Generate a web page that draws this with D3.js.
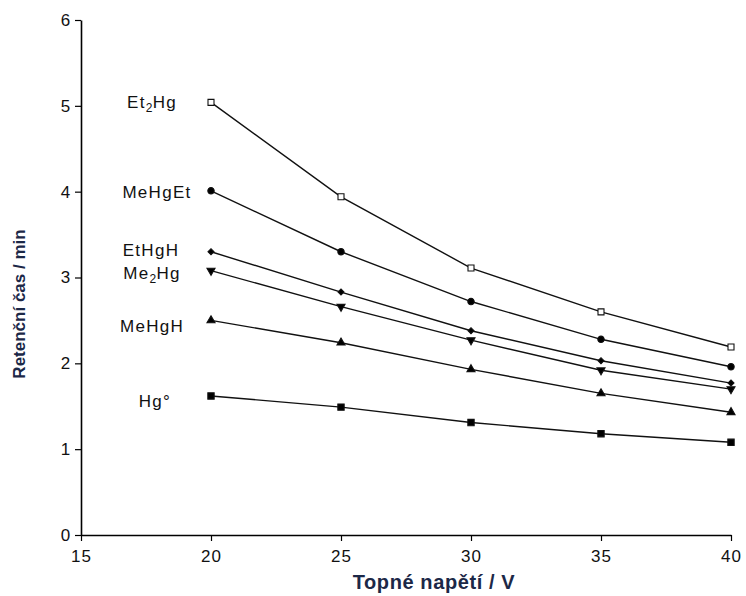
<!DOCTYPE html>
<html>
<head>
<meta charset="utf-8">
<script src="https://cdn.jsdelivr.net/npm/d3@7"></script>
<style>
  body { margin: 0; background: #fff; }
  text { font-family: "Liberation Sans", Arial, sans-serif; }
</style>
</head>
<body>
<div id="chart"></div>
<script>
// heating voltage (V)
var voltages = [20, 25, 30, 35, 40];

// retention times (min) per species
var et2hg  = [5.04, 3.94, 3.11, 2.60, 2.19];
var mehget = [4.01, 3.30, 2.72, 2.28, 1.96];
var ethgh  = [3.30, 2.83, 2.38, 2.03, 1.77];
var me2hg  = [3.08, 2.66, 2.27, 1.92, 1.70];
var mehgh  = [2.50, 2.24, 1.93, 1.65, 1.43];
var hg0    = [1.62, 1.49, 1.31, 1.18, 1.08];

var xTicks = [15, 20, 25, 30, 35, 40];
var yTicks = [0, 1, 2, 3, 4, 5, 6];

var series = [
    { name: "Et2Hg",  values: et2hg,  symbol: d3.symbolSquare,   fill: "#fff", size: 36 },
    { name: "MeHgEt", values: mehget, symbol: d3.symbolCircle,   fill: "#000", size: 32 },
    { name: "EtHgH",  values: ethgh,  symbol: d3.symbolSquare,   fill: "#000", size: 18, rot: 45 },
    { name: "Me2Hg",  values: me2hg,  symbol: d3.symbolTriangle, fill: "#000", size: 28, rot: 180 },
    { name: "MeHgH",  values: mehgh,  symbol: d3.symbolTriangle, fill: "#000", size: 28 },
    { name: "Hg0",    values: hg0,    symbol: d3.symbolSquare,   fill: "#000", size: 40 }
];

var width = 746, height = 596;
var margin = { top: 20, right: 15, bottom: 61, left: 81 };

var svg = d3.select("#chart").append("svg")
    .attr("width", width)
    .attr("height", height);

var x = d3.scaleLinear().domain([15, 40]).range([margin.left, width - margin.right]);
var y = d3.scaleLinear().domain([0, 6]).range([height - margin.bottom, margin.top]);

var translate = (a, b) => "translate(" + a + "," + b + ")";

// axes
var xAxis = svg.append("g")
    .attr("transform", translate(0, y(0)))
    .call(d3.axisBottom(x).tickValues(xTicks).tickFormat(d3.format("d")).tickSize(6).tickSizeOuter(0));
xAxis.select(".domain").attr("stroke-width", 1.6);
xAxis.selectAll(".tick line").attr("stroke-width", 1.2);
xAxis.selectAll("text")
    .attr("font-size", 17)
    .attr("letter-spacing", 1)
    .attr("dy", "1.05em")
    .attr("fill", "#111");

var yAxis = svg.append("g")
    .attr("transform", translate(x(15), 0))
    .call(d3.axisLeft(y).tickValues(yTicks).tickFormat(d3.format("d")).tickSize(6).tickSizeOuter(0));
yAxis.select(".domain").attr("stroke-width", 1.6);
yAxis.selectAll(".tick line").attr("stroke-width", 1.2);
yAxis.selectAll("text")
    .attr("font-size", 17)
    .attr("dx", "-0.1em")
    .attr("fill", "#111");

// axis titles
svg.append("text")
    .text("Topné napětí / V")
    .attr("x", 434)
    .attr("y", 589)
    .attr("text-anchor", "middle")
    .attr("font-size", 20)
    .attr("letter-spacing", 0.6)
    .attr("font-weight", "bold")
    .attr("fill", "#1c2847");

svg.append("text")
    .text("Retenční čas / min")
    .attr("transform", translate(25, 304) + " rotate(-90)")
    .attr("text-anchor", "middle")
    .attr("font-size", 17)
    .attr("font-weight", "bold")
    .attr("fill", "#1c2847");

// lines and markers
var line = d3.line()
    .x((d, i) => x(voltages[i]))
    .y(d => y(d));

series.forEach(s => {
    svg.append("path")
        .datum(s.values)
        .attr("d", line)
        .attr("fill", "none")
        .attr("stroke", "#111")
        .attr("stroke-width", 1.4);

    svg.selectAll(null)
        .data(s.values)
        .enter().append("path")
        .attr("d", d3.symbol().type(s.symbol).size(s.size))
        .attr("transform", (d, i) => translate(x(voltages[i]), y(d)) + (s.rot ? " rotate(" + s.rot + ")" : ""))
        .attr("fill", s.fill)
        .attr("stroke", "#111")
        .attr("stroke-width", 1.1);
});

// species labels, left of the first point
var addLabel = function (parts, cx, cy) {
    var t = svg.append("text")
        .attr("x", cx)
        .attr("y", cy)
        .attr("text-anchor", "middle")
        .attr("font-size", 17)
        .attr("letter-spacing", 1.3)
        .attr("fill", "#111");
    parts.forEach(p => {
        var ts = t.append("tspan").text(p.t);
        if (p.sub) ts.attr("font-size", 12).attr("dy", 4).attr("letter-spacing", 0.3);
        if (p.back) ts.attr("dy", -4);
    });
};

addLabel([{ t: "Et" }, { t: "2", sub: true }, { t: "Hg", back: true }], 152, y(et2hg[0]) + 6);
addLabel([{ t: "MeHgEt" }], 157, y(mehget[0]) + 7);
addLabel([{ t: "EtHgH" }], 151, y(ethgh[0]) + 4);
addLabel([{ t: "Me" }, { t: "2", sub: true }, { t: "Hg", back: true }], 152, y(me2hg[0]) + 8);
addLabel([{ t: "MeHgH" }], 152, y(mehgh[0]) + 12);
addLabel([{ t: "Hg°" }], 155, y(hg0[0]) + 11);
</script>
</body>
</html>
